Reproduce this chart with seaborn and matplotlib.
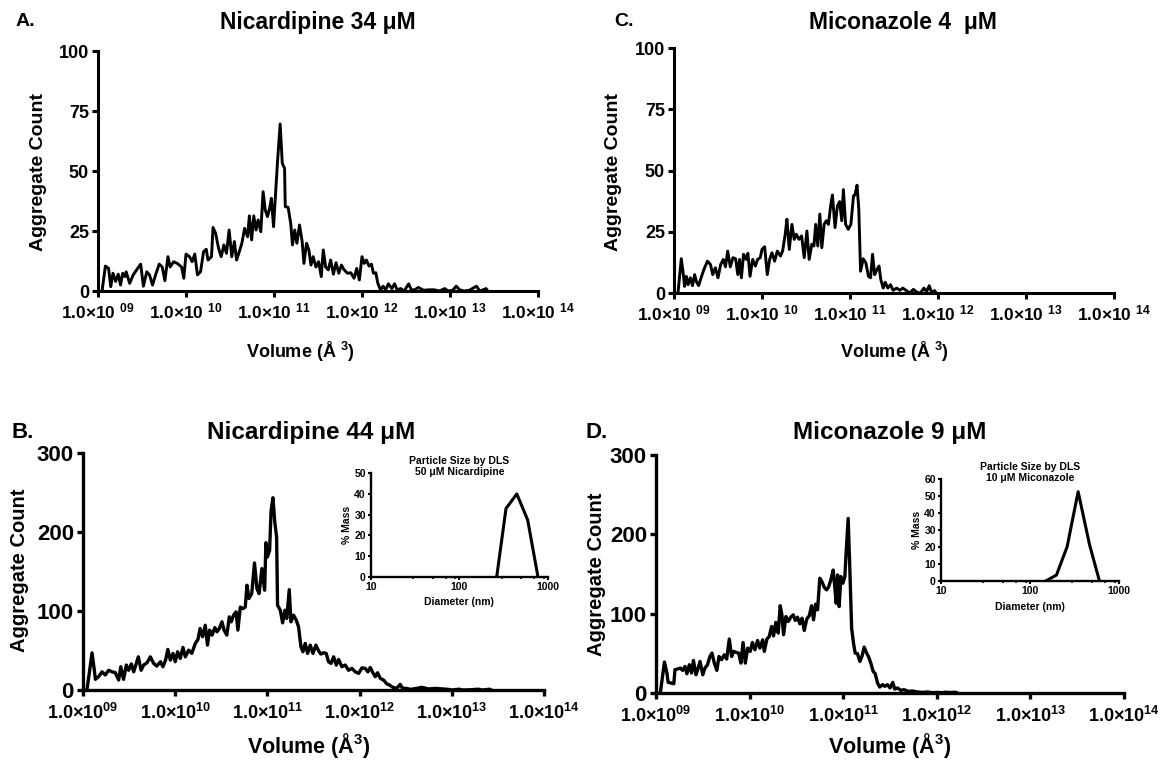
import numpy as np
import matplotlib
matplotlib.use("Agg")
import matplotlib.pyplot as plt
import seaborn as sns
from matplotlib.ticker import NullLocator, FixedLocator, NullFormatter

# ---------------- data (log10 of volume in A^3, aggregate counts) ----------------
a_exp = [9.046, 9.084, 9.12, 9.145, 9.17, 9.2, 9.23, 9.256, 9.28, 9.306,
         9.32, 9.36, 9.40, 9.45, 9.485, 9.516, 9.554, 9.585, 9.62, 9.65,
         9.695, 9.73, 9.76, 9.795, 9.82, 9.86, 9.9, 9.95, 9.975, 10.0,
         10.04, 10.07, 10.1, 10.13, 10.165, 10.2, 10.23, 10.25, 10.29, 10.307,
         10.337, 10.37, 10.4, 10.43, 10.46, 10.49, 10.52, 10.55, 10.575, 10.6,
         10.635, 10.666, 10.7, 10.72, 10.746, 10.77, 10.796, 10.82, 10.85, 10.876,
         10.9, 10.926, 10.95, 10.97, 10.995, 11.018, 11.04, 11.07, 11.094, 11.12,
         11.128, 11.16, 11.19, 11.21, 11.235, 11.26, 11.29, 11.32, 11.34, 11.37,
         11.396, 11.42, 11.445, 11.476, 11.507, 11.537, 11.56, 11.587, 11.617, 11.644,
         11.675, 11.705, 11.736, 11.766, 11.797, 11.835, 11.873, 11.91, 11.94, 11.97,
         12.0, 12.026, 12.05, 12.08, 12.107, 12.13, 12.157, 12.18, 12.21, 12.24,
         12.27, 12.3, 12.34, 12.37, 12.4, 12.44, 12.48, 12.53, 12.56, 12.6,
         12.64, 12.7, 12.76, 12.82, 12.88, 12.94, 12.98, 13.03, 13.07, 13.11,
         13.16, 13.22, 13.3, 13.34, 13.41, 13.43]
a_cnt = [0, 10.4, 9.4, 1.8, 7.4, 4, 7, 2.5, 7.4, 6,
         8, 3.2, 6.7, 9.4, 11.2, 2, 8, 6.7, 2.5, 6.2,
         11.2, 10, 4.3, 14.3, 10, 12.2, 11.5, 10, 5.3, 15.4,
         14.3, 12.2, 15.4, 6.7, 8, 16.4, 17.4, 12.9, 14.3, 26.5,
         24, 17.8, 14.3, 19.2, 15.7, 25.4, 14.3, 20.6, 12.9, 15.7,
         19.9, 26.1, 22.6, 31.3, 21.3, 31.3, 25.4, 29.6, 24.7, 41.4,
         33.8, 31, 34.4, 38.6, 26.8, 40.7, 53.9, 69.6, 53.2, 51.1,
         35.1, 34.9, 28.2, 19.2, 25.4, 19.9, 27.5, 20.6, 11.5, 19.9,
         17.1, 10.8, 14.3, 10, 12.2, 6, 17.1, 10, 8.8, 12.9,
         7, 11.8, 7.4, 10.8, 8.8, 7.4, 7.6, 5.3, 9.4, 4.6,
         14.3, 11.5, 12.9, 10.4, 11.2, 7.4, 7.6, 3.2, 0.4, 2,
         0.5, 3, 1, 3, 0.5, 1, 0, 3, 0.5, 0.5,
         1.5, 0.3, 0.5, 0.5, 0, 1, 0, 0.3, 2, 0.5,
         0, 0.3, 2, 0, 1, 0]

c_exp = [9.045, 9.083, 9.106, 9.12, 9.14, 9.16, 9.185, 9.21, 9.234, 9.257,
         9.28, 9.313, 9.343, 9.38, 9.415, 9.44, 9.47, 9.5, 9.53, 9.56,
         9.585, 9.61, 9.64, 9.67, 9.7, 9.725, 9.745, 9.766, 9.79, 9.82,
         9.84, 9.864, 9.894, 9.925, 9.95, 9.98, 10.0, 10.03, 10.06, 10.087,
         10.113, 10.143, 10.174, 10.21, 10.234, 10.264, 10.283, 10.31, 10.34, 10.366,
         10.39, 10.42, 10.45, 10.48, 10.51, 10.536, 10.566, 10.59, 10.61, 10.634,
         10.657, 10.68, 10.706, 10.73, 10.755, 10.78, 10.8, 10.83, 10.857, 10.883,
         10.906, 10.925, 10.95, 10.98, 11.01, 11.04, 11.056, 11.08, 11.1, 11.12,
         11.15, 11.18, 11.21, 11.234, 11.256, 11.28, 11.306, 11.33, 11.35, 11.377,
         11.4, 11.43, 11.46, 11.49, 11.53, 11.566, 11.6, 11.64, 11.68, 11.72,
         11.76, 11.8, 11.84, 11.87, 11.9, 11.93, 11.96, 11.98]
c_cnt = [0, 14, 7.5, 2.7, 6.8, 3.4, 6.2, 3, 7.5, 4.4,
         3, 6.8, 9.9, 13, 11.6, 7.5, 10.3, 6.2, 11.6, 13.7,
         10.7, 17.1, 10.7, 14.4, 14, 7.5, 13.7, 6.2, 15.8, 13.7,
         16.2, 6.8, 13.7, 11, 13.7, 14.4, 17.8, 18.9, 7.5, 13.7,
         16.4, 13, 17.1, 15.1, 17.1, 24, 30.1, 17.8, 28, 21.9,
         24, 21.9, 23.3, 14.4, 25.3, 13.7, 19.9, 19.2, 28, 19.2,
         32.2, 18.5, 28, 29.5, 28, 35.6, 40, 26.7, 35.6, 37.3,
         29.5, 42.2, 28, 26, 28, 39.7, 40, 44, 34.2, 8.9,
         14, 12.3, 6.8, 6.2, 15.8, 7.5, 9.6, 11, 5.5, 2,
         4.4, 2, 3.4, 1.1, 2, 1.1, 2, 1, 0, 1.5,
         0.3, 0, 2, 0.5, 3, 0, 1, 0]

b_exp = [9.043, 9.098, 9.123, 9.134, 9.17, 9.206, 9.242, 9.278, 9.314, 9.35,
         9.387, 9.41, 9.44, 9.47, 9.495, 9.524, 9.55, 9.578, 9.6, 9.63,
         9.658, 9.694, 9.73, 9.766, 9.8, 9.84, 9.867, 9.896, 9.92, 9.947,
         9.976, 10.0, 10.026, 10.055, 10.084, 10.11, 10.146, 10.18, 10.218, 10.247,
         10.27, 10.297, 10.326, 10.35, 10.373, 10.4, 10.43, 10.453, 10.48, 10.507,
         10.53, 10.56, 10.587, 10.608, 10.633, 10.66, 10.68, 10.706, 10.735, 10.76,
         10.778, 10.8, 10.83, 10.86, 10.886, 10.91, 10.94, 10.97, 10.984, 11.0,
         11.024, 11.04, 11.06, 11.08, 11.1, 11.11, 11.14, 11.165, 11.19, 11.21,
         11.237, 11.255, 11.284, 11.313, 11.338, 11.364, 11.385, 11.41, 11.436, 11.465,
         11.494, 11.526, 11.555, 11.58, 11.61, 11.638, 11.663, 11.69, 11.718, 11.747,
         11.772, 11.808, 11.844, 11.88, 11.916, 11.953, 11.99, 12.025, 12.06, 12.09,
         12.115, 12.144, 12.17, 12.195, 12.224, 12.26, 12.296, 12.325, 12.36, 12.404,
         12.44, 12.466, 12.51, 12.55, 12.62, 12.675, 12.75, 12.82, 12.91, 12.96,
         13.0, 13.08, 13.12, 13.2, 13.29, 13.33, 13.41, 13.43]
b_cnt = [0, 47, 25, 13.5, 17, 23, 19, 25, 23, 22,
         12.6, 29.5, 13.5, 31.6, 25, 33, 23, 33.7, 42, 25,
         31.6, 34.5, 42, 33.7, 30.3, 35.8, 29.5, 37.9, 51.4, 37.9,
         46.3, 35.8, 48.4, 40, 53.9, 42, 50.5, 46.3, 59, 64,
         77.9, 67.4, 82, 56.8, 75.8, 69.5, 79, 73.7, 78, 86.3,
         75.8, 69.5, 92.6, 86.3, 94.7, 98.9, 75.8, 105, 103, 105,
         132.6, 115.8, 122, 160.8, 128.4, 122, 153.7, 126.3, 186.5, 168.4,
         176.8, 227, 243.4, 212.6, 193.7, 107.4, 101, 85, 101, 90.5,
         127, 86.3, 94.7, 88.4, 80, 54.7, 48.4, 59, 46.3, 56.8,
         46.3, 56.8, 49.7, 45.5, 47.2, 46.3, 35.8, 33.7, 42, 31.6,
         38.7, 29.5, 31.6, 25, 27.4, 23, 21, 28, 27.4, 23,
         28.6, 21.9, 16.8, 21.9, 14.7, 12.6, 7.6, 6.3, 3.4, 2.1,
         7.2, 2.1, 2.1, 0.8, 2.1, 3.4, 1.3, 2.1, 1.3, 0.8,
         0, 1, 0, 0.3, 1, 0, 1, 0]

d_exp = [9.046, 9.09, 9.117, 9.13, 9.16, 9.19, 9.203, 9.23, 9.26, 9.285,
         9.31, 9.33, 9.356, 9.38, 9.4, 9.427, 9.445, 9.47, 9.5, 9.523,
         9.55, 9.576, 9.598, 9.623, 9.65, 9.673, 9.7, 9.73, 9.755, 9.783,
         9.808, 9.83, 9.86, 9.883, 9.907, 9.93, 9.954, 9.98, 10.007, 10.03,
         10.057, 10.085, 10.11, 10.14, 10.157, 10.185, 10.21, 10.235, 10.256, 10.28,
         10.306, 10.327, 10.345, 10.363, 10.388, 10.413, 10.44, 10.466, 10.488, 10.512,
         10.537, 10.56, 10.584, 10.61, 10.637, 10.662, 10.683, 10.705, 10.726, 10.75,
         10.772, 10.797, 10.822, 10.843, 10.868, 10.893, 10.91, 10.925, 10.94, 10.957,
         10.975, 10.997, 11.018, 11.028, 11.053, 11.07, 11.09, 11.11, 11.128, 11.153,
         11.178, 11.2, 11.224, 11.25, 11.27, 11.295, 11.32, 11.342, 11.367, 11.39,
         11.42, 11.445, 11.473, 11.5, 11.53, 11.55, 11.58, 11.616, 11.65, 11.694,
         11.74, 11.794, 11.847, 11.9, 11.954, 12.007, 12.05, 12.1, 12.15, 12.2,
         12.22]
d_cnt = [0, 39, 25, 13.4, 12.6, 11.7, 29.4, 30.2, 31.4, 28.5,
         33.5, 24.3, 35.6, 25.2, 41, 23, 29.4, 39.8, 23, 31.4,
         35.6, 46, 50.3, 37.7, 28.5, 46, 42, 48.2, 42.8, 68,
         46, 52.4, 51, 50.3, 37.7, 63.7, 37.7, 56.6, 52.4, 63.7,
         54.5, 66.2, 56.6, 67, 52.4, 68, 71.3, 83.9, 72, 89,
         75.5, 110, 98.5, 73.4, 96.4, 90.1, 95.6, 98.5, 91.4, 95.6,
         87.2, 94.3, 78.8, 93, 97.3, 110, 92.2, 112, 104.8, 144.7,
         140.5, 133.3, 130, 133.3, 142.6, 155, 134, 113.2, 148.8, 109,
         146.8, 138.4, 146.8, 169.8, 220, 159.3, 81.8, 62.9, 50.3, 49.5,
         39.8, 46, 57.9, 50.3, 46, 37.7, 27.3, 24.3, 12.6, 7.5,
         10.5, 8.4, 10.5, 6.3, 13.4, 5, 6.3, 3.4, 4.2, 2.1,
         2.5, 1.3, 0.8, 1.3, 0.4, 0.8, 0.4, 1, 0.6, 1,
         0]

# DLS insets: diameter (nm) vs % mass
nic_diam = [264, 336, 445, 590, 770]
nic_mass = [0, 33, 40, 27.4, 0]
mic_diam = [149, 199, 262, 348, 468, 605]
mic_mass = [0, 3.7, 20.4, 52.7, 21.4, 0]

decades = [1e9, 1e10, 1e11, 1e12, 1e13, 1e14]
exps = ["09", "10", "11", "12", "13", "14"]

# ---------------- style ----------------
sns.set_style("ticks")
plt.rcParams["font.family"] = ["Liberation Sans", "DejaVu Sans"]
plt.rcParams["font.weight"] = "bold"
plt.rcParams["mathtext.fontset"] = "custom"
plt.rcParams["mathtext.rm"] = "Liberation Sans:bold"
plt.rcParams["mathtext.bf"] = "Liberation Sans:bold"
plt.rcParams["mathtext.it"] = "Liberation Sans:bold"
plt.rcParams["mathtext.default"] = "rm"
for k in ("text.color", "axes.labelcolor", "xtick.color", "ytick.color", "axes.edgecolor"):
    plt.rcParams[k] = "black"

W, H = 1163, 761
fig = plt.figure(figsize=(W / 100, H / 100), dpi=100)
fig.patch.set_facecolor("white")


def add_ax(l, r, b, t):
    return fig.add_axes([l / W, 1 - b / H, (r - l) / W, (b - t) / H])


def px(x, y):
    return x / W, 1 - y / H


def style_main(ax, ymax, ystep, yfs, xfs, spaced, lw, xpad):
    ax.set_xscale("log")
    ax.set_xlim(1e9, 1e14)
    ax.set_ylim(0, ymax)
    ax.xaxis.set_major_locator(FixedLocator(decades))
    ax.xaxis.set_minor_locator(NullLocator())
    if spaced:
        labs = ["1.0×10 $^{%s}$" % e for e in exps]
    else:
        labs = ["1.0×10$^{%s}$" % e for e in exps]
    ax.set_xticklabels(labs)
    ax.set_yticks(np.arange(0, ymax + 1, ystep))
    ax.tick_params(axis="x", labelsize=xfs, width=lw, length=4.5, pad=xpad)
    ax.tick_params(axis="y", labelsize=yfs, width=lw, length=4.5, pad=2)
    sns.despine(ax=ax)
    for s in ("left", "bottom"):
        ax.spines[s].set_linewidth(lw)
        ax.spines[s].set_color("black")
    ax.set_xlabel("")
    ax.set_ylabel("")
    ax.set_facecolor("white")


def draw(ax, ex, cnt, lw):
    sns.lineplot(x=10 ** np.array(ex), y=cnt, ax=ax, color="black",
                 linewidth=lw, estimator=None, sort=False)


axA = add_ax(98, 538, 291, 51)
axC = add_ax(674, 1114, 293, 48)
axB = add_ax(83, 544, 690, 453)
axD = add_ax(656, 1124, 693, 455)

draw(axA, a_exp, a_cnt, 2.1)
draw(axC, c_exp, c_cnt, 2.1)
draw(axB, b_exp, b_cnt, 2.4)
draw(axD, d_exp, d_cnt, 2.4)

style_main(axA, 100, 25, 13, 12.5, True, 2.2, 3)
style_main(axC, 100, 25, 13, 12.5, True, 2.2, 3)
style_main(axB, 300, 100, 16, 13, False, 2.4, 5)
style_main(axD, 300, 100, 16, 13, False, 2.4, 5)

# panel letters and titles
fig.text(*px(25, 21), "A.", fontsize=14, fontweight="bold", ha="center", va="center")
fig.text(*px(624, 21), "C.", fontsize=14, fontweight="bold", ha="center", va="center")
fig.text(*px(23, 432), "B.", fontsize=16, fontweight="bold", ha="center", va="center")
fig.text(*px(597, 432), "D.", fontsize=16, fontweight="bold", ha="center", va="center")

fig.text(*px(318, 22), "Nicardipine 34 μM", fontsize=16.5, fontweight="bold", ha="center", va="center")
fig.text(*px(903, 22), "Miconazole 4  μM", fontsize=16.5, fontweight="bold", ha="center", va="center")
fig.text(*px(311, 432), "Nicardipine 44 μM", fontsize=17.5, fontweight="bold", ha="center", va="center")
fig.text(*px(890, 432), "Miconazole 9 μM", fontsize=17.5, fontweight="bold", ha="center", va="center")

# axis titles
fig.text(*px(300, 352), "Volume (Å $^{3}$)", fontsize=13, fontweight="bold", ha="center", va="center")
fig.text(*px(894, 352), "Volume (Å $^{3}$)", fontsize=13, fontweight="bold", ha="center", va="center")
fig.text(*px(309, 745), "Volume (Å$^{3}$)", fontsize=15.5, fontweight="bold", ha="center", va="center")
fig.text(*px(890, 745), "Volume (Å$^{3}$)", fontsize=15.5, fontweight="bold", ha="center", va="center")

fig.text(*px(39, 172), "Aggregate Count", fontsize=14, fontweight="bold", ha="center", va="center", rotation=90)
fig.text(*px(614, 172), "Aggregate Count", fontsize=14, fontweight="bold", ha="center", va="center", rotation=90)
fig.text(*px(20, 570), "Aggregate Count", fontsize=14.5, fontweight="bold", ha="center", va="center", rotation=90)
fig.text(*px(597, 574), "Aggregate Count", fontsize=14.5, fontweight="bold", ha="center", va="center", rotation=90)

# ---------------- insets ----------------
inB = add_ax(370.7, 548, 576.7, 473.3)
inD = add_ax(940.7, 1119, 581.3, 479.3)


def style_inset(ax, diam, mass, ymax, title):
    sns.lineplot(x=diam, y=mass, ax=ax, color="black", linewidth=2.2,
                 estimator=None, sort=False)
    ax.set_xscale("log")
    ax.set_xlim(10, 1000)
    ax.set_ylim(0, ymax)
    ax.xaxis.set_major_locator(FixedLocator([10, 100, 1000]))
    ax.set_xticklabels(["10", "100", "1000"])
    ax.xaxis.set_minor_locator(FixedLocator([30, 50, 70, 90, 300, 500, 700, 900]))
    ax.xaxis.set_minor_formatter(NullFormatter())
    ax.set_yticks(np.arange(0, ymax + 1, 10))
    ax.tick_params(axis="both", which="major", labelsize=7.5, width=1.5, length=2.5, pad=1)
    ax.tick_params(axis="x", which="minor", width=1.2, length=1.5)
    sns.despine(ax=ax)
    for s in ("left", "bottom"):
        ax.spines[s].set_linewidth(1.7)
        ax.spines[s].set_color("black")
    ax.set_xlabel("Diameter (nm)", fontsize=7.5, fontweight="bold", labelpad=4)
    ax.set_ylabel("% Mass", fontsize=7.5, fontweight="bold", labelpad=2)
    ax.text(0.5, 0.96, title, transform=ax.transAxes, ha="center", va="bottom",
            fontsize=7.5, fontweight="bold", linespacing=1.15)
    ax.set_facecolor("none")


style_inset(inB, nic_diam, nic_mass, 50, "Particle Size by DLS\n50 μM Nicardipine")
style_inset(inD, mic_diam, mic_mass, 60, "Particle Size by DLS\n10 μM Miconazole")

fig.savefig("out.png", dpi=100, facecolor="white")
